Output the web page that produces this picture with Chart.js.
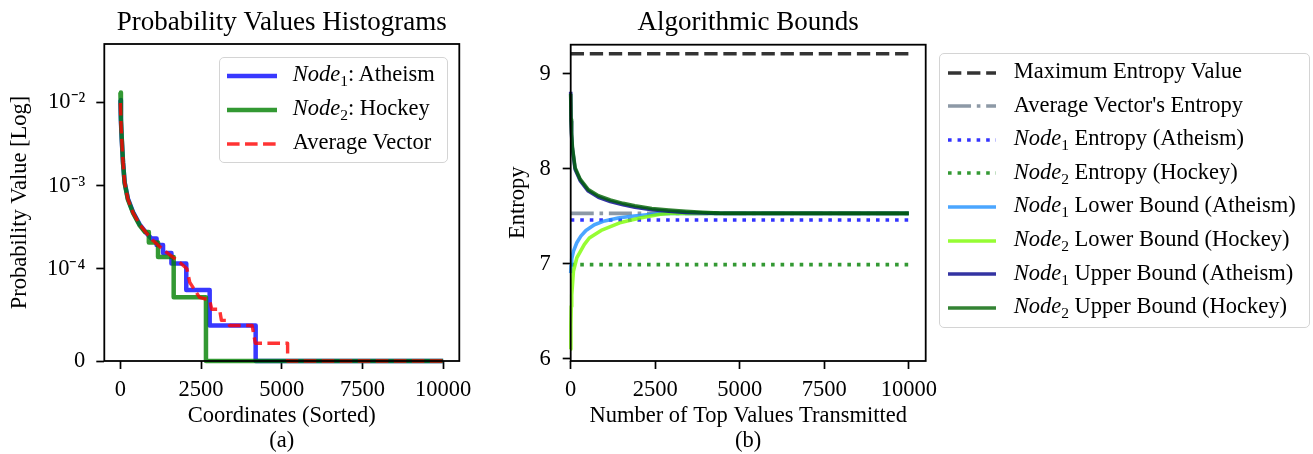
<!DOCTYPE html>
<html>
<head>
<meta charset="utf-8">
<script src="https://cdn.jsdelivr.net/npm/chart.js@4.4.1/dist/chart.umd.min.js"></script>
<style>
html,body{margin:0;padding:0;background:#fff;}
#wrap{position:relative;width:1313px;height:454px;overflow:hidden;font-family:"Liberation Serif","Times New Roman",serif;}
#wrap canvas{position:absolute;left:0;top:0;}
.legend{position:absolute;background:rgba(255,255,255,0.8);border:1.5px solid #d4d4d4;border-radius:5px;box-sizing:border-box;font-size:22.5px;color:#000;z-index:5;}
.row{position:absolute;left:0;right:0;height:30px;}
.row svg{position:absolute;top:0;}
.row span{position:absolute;top:-1.6px;line-height:30px;white-space:nowrap;}
.row sub{font-size:15.5px;vertical-align:0;position:relative;top:5px;line-height:0;}
</style>
</head>
<body>
<div id="wrap">
  <canvas id="c1" width="1313" height="454"></canvas>
  <canvas id="c2" width="1313" height="454"></canvas>
  <div id="leg1" class="legend"></div>
  <div id="leg2" class="legend"></div>
</div>
<script>
// ---------------- Panel (a): Probability Values Histograms ----------------
const HIST_TITLE = 'Probability Values Histograms';
const HIST_X_LABEL = ['Coordinates (Sorted)', '(a)'];
const HIST_Y_LABEL = 'Probability Value [Log]';
const HIST_X_TICKS = [0, 2500, 5000, 7500, 10000];
const HIST_Y_TICKS = [0, 1e-4, 1e-3, 1e-2];
const HIST_Y_TICK_LABELS = ['0', '10\u207B\u2074', '10\u207B\u00B3', '10\u207B\u00B2'];
const HIST_LABELS = ['Node_1: Atheism', 'Node_2: Hockey', 'Average Vector'];

const NODE1_HIST_X = [0, 15, 40, 80, 130, 230, 390, 600, 800, 960, 1120, 1120, 1320, 1320, 1580, 1580, 2040, 2040, 2765, 2765, 4190, 4190, 10000];
const NODE1_HIST_Y = [0.0107, 0.006, 0.0036, 0.0019, 0.0011, 0.0007, 0.00048, 0.00034, 0.00027, 0.000231, 0.000231, 0.000193, 0.000193, 0.000154, 0.000154, 0.0001155, 0.0001155, 0.000077, 0.000077, 0.0000385, 0.0000385, 0, 0];

const NODE2_HIST_X = [0, 15, 40, 80, 130, 230, 390, 600, 760, 880, 880, 1165, 1165, 1650, 1650, 2650, 2650, 10000];
const NODE2_HIST_Y = [0.0132, 0.0065, 0.0038, 0.0019, 0.00108, 0.00068, 0.00047, 0.00033, 0.000276, 0.000276, 0.000207, 0.000207, 0.000138, 0.000138, 0.000069, 0.000069, 0, 0];

const AVG_HIST_X = [0, 15, 40, 80, 130, 230, 390, 600, 800, 1000, 1300, 1600, 1850, 2060, 2150, 2300, 2450, 2765, 2830, 3070, 3130, 3300, 3380, 4080, 4180, 5180, 5180, 10000];
const AVG_HIST_Y = [0.0099, 0.0058, 0.0036, 0.0019, 0.0011, 0.00069, 0.00047, 0.00034, 0.00027, 0.00022, 0.000172, 0.00014, 0.000118, 0.0001, 0.000085, 0.000077, 0.000069, 0.000066, 0.000056, 0.000056, 0.000044, 0.000044, 0.0000385, 0.0000385, 0.0000193, 0.0000193, 0, 0];

// ---------------- Panel (b): Algorithmic Bounds ----------------
const BOUND_TITLE = 'Algorithmic Bounds';
const BOUND_X_LABEL = ['Number of Top Values Transmitted', '(b)'];
const BOUND_Y_LABEL = 'Entropy';
const BOUND_X_TICKS = [0, 2500, 5000, 7500, 10000];
const BOUND_Y_TICKS = [6, 7, 8, 9];
const BOUND_LABELS = ['Maximum Entropy Value', "Average Vector's Entropy", 'Node_1 Entropy (Atheism)', 'Node_2 Entropy (Hockey)',
  'Node_1 Lower Bound (Atheism)', 'Node_2 Lower Bound (Hockey)', 'Node_1 Upper Bound (Atheism)', 'Node_2 Upper Bound (Hockey)'];

const ENTROPY_LINE_X = [0, 10000];
const MAX_ENTROPY_Y = [9.21, 9.21];
const AVG_ENTROPY_Y = [7.53, 7.53];
const NODE1_ENTROPY_Y = [7.46, 7.46];
const NODE2_ENTROPY_Y = [6.99, 6.99];

const NODE1_LOWER_X = [0, 10, 30, 80, 180, 300, 450, 700, 1000, 1400, 1800, 2400, 2800, 10000];
const NODE1_LOWER_Y = [6.90, 6.98, 7.05, 7.13, 7.22, 7.29, 7.35, 7.41, 7.45, 7.48, 7.50, 7.52, 7.53, 7.53];

const NODE2_LOWER_X = [0, 5, 15, 30, 80, 180, 400, 550, 900, 1450, 2050, 2650, 2900, 10000];
const NODE2_LOWER_Y = [6.10, 6.35, 6.55, 6.67, 6.92, 7.06, 7.20, 7.27, 7.35, 7.43, 7.48, 7.52, 7.53, 7.53];

const NODE1_UPPER_X = [0, 10, 25, 50, 130, 280, 520, 820, 1170, 1550, 1900, 2400, 2900, 3400, 3900, 4400, 10000];
const NODE1_UPPER_Y = [8.81, 8.50, 8.36, 8.21, 7.995, 7.875, 7.765, 7.70, 7.655, 7.62, 7.595, 7.567, 7.552, 7.54, 7.533, 7.53, 7.53];

const NODE2_UPPER_X = [0, 10, 25, 50, 130, 280, 520, 820, 1170, 1550, 1900, 2400, 2900, 3400, 3900, 4400, 10000];
const NODE2_UPPER_Y = [8.79, 8.52, 8.38, 8.23, 8.01, 7.89, 7.78, 7.715, 7.67, 7.635, 7.61, 7.58, 7.565, 7.552, 7.542, 7.532, 7.53];

// ---------------- helpers ----------------
const FONT = "'Liberation Serif', 'Times New Roman', serif";
Chart.defaults.font.family = FONT;
Chart.defaults.color = '#000';
const zip = (xs, ys) => xs.map((x, i) => ({x, y: ys[i]}));

// symmetric-log scale (linthresh 1e-4, linscale 1, base 10)
const LINTHRESH = 1e-4, LINSCALE = 1 / (1 - 1 / 10);
function symT(v) { const a = Math.abs(v), s = Math.sign(v); return a <= LINTHRESH ? s * a / LINTHRESH * LINSCALE : s * (LINSCALE + Math.log10(a / LINTHRESH)); }
function symInv(t) { const a = Math.abs(t), s = Math.sign(t); return a <= LINSCALE ? s * a / LINSCALE * LINTHRESH : s * LINTHRESH * Math.pow(10, a - LINSCALE); }
class SymlogScale extends Chart.LinearScale {
  configure() { super.configure(); this._t0 = symT(this.min); this._t1 = symT(this.max); }
  getPixelForValue(v) { return this.getPixelForDecimal((symT(v) - this._t0) / (this._t1 - this._t0)); }
  getValueForPixel(p) { return symInv(this._t0 + this.getDecimalForPixel(p) * (this._t1 - this._t0)); }
}
SymlogScale.id = 'symlog';
SymlogScale.defaults = Chart.LinearScale.defaults;
Chart.register(SymlogScale);

const framePlugin = {
  id: 'frame',
  afterDatasetsDraw(chart) {
    const {ctx, chartArea: a} = chart;
    ctx.save(); ctx.strokeStyle = '#000'; ctx.lineWidth = 1.8;
    ctx.strokeRect(a.left, a.top, a.right - a.left, a.bottom - a.top);
    ctx.restore();
  }
};

function fixedTicks(values) { return s => { s.ticks = values.map(v => ({value: v})); }; }
const tickGrid = {display: true, drawOnChartArea: false, drawTicks: true, tickLength: 8, tickWidth: 1.7, tickColor: '#000'};

function axisX(min, max, ticks, label) {
  return {
    type: 'linear', min, max, bounds: 'data',
    afterBuildTicks: fixedTicks(ticks),
    afterFit: s => { s.height = 93; },
    grid: tickGrid, border: {display: false},
    ticks: {font: {size: 22.5}, padding: 8, maxRotation: 0, autoSkip: false, callback: v => String(v)},
    title: {display: true, text: label, font: {size: 22.5, lineHeight: 1.11}, padding: {top: 0, bottom: 0.5}}
  };
}

const DASHED = w => [3.7 * w, 1.6 * w];
const DOTTED = w => [1 * w, 1.65 * w];
const DASHDOT = w => [6.4 * w, 1.6 * w, 1 * w, 1.6 * w];

function ds(label, xs, ys, color, width, dash, i) {
  return {label, data: zip(xs, ys), borderColor: color, backgroundColor: color, borderWidth: width,
    borderDash: dash || [], pointRadius: 0, tension: 0, fill: false, clip: false, order: -i,
    borderCapStyle: 'butt', borderJoinStyle: 'round'};
}

// ---------------- chart (a) ----------------
const chart1 = new Chart(document.getElementById('c1'), {
  type: 'line',
  data: {datasets: [
    ds(HIST_LABELS[0], NODE1_HIST_X, NODE1_HIST_Y, 'rgba(0,0,255,0.78)', 4.5, null, 0),
    ds(HIST_LABELS[1], NODE2_HIST_X, NODE2_HIST_Y, 'rgba(0,128,0,0.8)', 4.5, null, 1),
    ds(HIST_LABELS[2], AVG_HIST_X, AVG_HIST_Y, 'rgba(255,0,0,0.8)', 3.4, DASHED(3.4), 2)
  ]},
  options: {
    responsive: false, animation: false, devicePixelRatio: 1,
    layout: {padding: {left: 0, right: 1313 - 459.3, top: 0, bottom: 0}, autoPadding: false},
    plugins: {
      legend: {display: false}, tooltip: {enabled: false},
      title: {display: true, text: HIST_TITLE, fullSize: false, font: {size: 27, weight: 'normal', lineHeight: 1.2}, padding: {top: 7, bottom: 4.6}, color: '#000'}
    },
    scales: {
      x: axisX(-500, 10500, HIST_X_TICKS, HIST_X_LABEL),
      y: {
        type: 'symlog', min: 0, max: 0.0507, bounds: 'data',
        afterBuildTicks: fixedTicks(HIST_Y_TICKS),
        afterFit: s => { s.width = 104.3; },
        grid: tickGrid, border: {display: false},
        ticks: {font: {size: 22.5}, padding: 11, autoSkip: false, callback: v => { const k = HIST_Y_TICKS.indexOf(v); return k >= 0 ? HIST_Y_TICK_LABELS[k] : ''; }},
        title: {display: true, text: HIST_Y_LABEL, font: {size: 22.5, lineHeight: 1.2}, padding: {top: 6.5, bottom: 0}}
      }
    }
  },
  plugins: [framePlugin]
});

// ---------------- chart (b) ----------------
const LW = 3.6;
const chart2 = new Chart(document.getElementById('c2'), {
  type: 'line',
  data: {datasets: [
    ds(BOUND_LABELS[0], ENTROPY_LINE_X, MAX_ENTROPY_Y, 'rgba(0,0,0,0.8)', LW, DASHED(LW), 0),
    ds(BOUND_LABELS[1], ENTROPY_LINE_X, AVG_ENTROPY_Y, 'rgba(112,128,144,0.8)', LW, DASHDOT(LW), 1),
    ds(BOUND_LABELS[2], ENTROPY_LINE_X, NODE1_ENTROPY_Y, 'rgba(0,0,255,0.8)', LW, DOTTED(LW), 2),
    ds(BOUND_LABELS[3], ENTROPY_LINE_X, NODE2_ENTROPY_Y, 'rgba(0,128,0,0.8)', LW, DOTTED(LW), 3),
    ds(BOUND_LABELS[4], NODE1_LOWER_X, NODE1_LOWER_Y, 'rgba(30,144,255,0.8)', LW, null, 4),
    ds(BOUND_LABELS[5], NODE2_LOWER_X, NODE2_LOWER_Y, 'rgba(124,252,0,0.8)', LW, null, 5),
    ds(BOUND_LABELS[6], NODE1_UPPER_X, NODE1_UPPER_Y, 'rgba(0,0,139,0.8)', LW, null, 6),
    ds(BOUND_LABELS[7], NODE2_UPPER_X, NODE2_UPPER_Y, 'rgba(0,100,0,0.8)', LW, null, 7)
  ]},
  options: {
    responsive: false, animation: false, devicePixelRatio: 1,
    layout: {padding: {left: 500, right: 1313 - 925.7, top: 0, bottom: 0}, autoPadding: false},
    plugins: {
      legend: {display: false}, tooltip: {enabled: false},
      title: {display: true, text: BOUND_TITLE, fullSize: false, font: {size: 27, weight: 'normal', lineHeight: 1.2}, padding: {top: 7, bottom: 5.3}, color: '#000'}
    },
    scales: {
      x: axisX(0, 10500, BOUND_X_TICKS, BOUND_X_LABEL),
      y: {
        type: 'linear', min: 5.975, max: 9.306, bounds: 'data',
        afterBuildTicks: fixedTicks(BOUND_Y_TICKS),
        afterFit: s => { s.width = 70.7; },
        grid: tickGrid, border: {display: false},
        ticks: {font: {size: 22.5}, padding: 12, autoSkip: false, callback: v => String(v)},
        title: {display: true, text: BOUND_Y_LABEL, font: {size: 22.5, lineHeight: 1.2}, padding: {top: 4.5, bottom: 0}}
      }
    }
  },
  plugins: [framePlugin]
});

// ---------------- HTML legends built from chart datasets ----------------
function fmt(label) {
  return label.replace(/Node_(\d)/g, '<i>Node</i><sub>$1</sub>');
}
function buildLegend(el, chart, box) {
  el.style.left = box.left + 'px'; el.style.top = box.top + 'px';
  el.style.width = box.width + 'px'; el.style.height = box.height + 'px';
  let html = '';
  chart.data.datasets.forEach((d, i) => {
    const cy = box.first + i * box.step;
    const dash = d.borderDash && d.borderDash.length ? ` stroke-dasharray="${d.borderDash.join(',')}"` : '';
    html += `<div class="row" style="top:${cy - 15}px">` +
      `<svg style="left:${box.hx}px" width="${box.hw}" height="30"><line x1="0" y1="15" x2="${box.hw}" y2="15" stroke="${d.borderColor}" stroke-width="${d.borderWidth}"${dash}/></svg>` +
      `<span style="left:${box.tx}px">${fmt(d.label)}</span></div>`;
  });
  el.innerHTML = html;
}
buildLegend(document.getElementById('leg1'), chart1, {left: 219, top: 56.7, width: 228.7, height: 106.6, first: 18.3, step: 33.9, hx: 7, hw: 50, tx: 72.7});
buildLegend(document.getElementById('leg2'), chart2, {left: 939.3, top: 53.3, width: 370.7, height: 275, first: 18.4, step: 33.57, hx: 7.4, hw: 48.3, tx: 73.4});
</script>
</body>
</html>
